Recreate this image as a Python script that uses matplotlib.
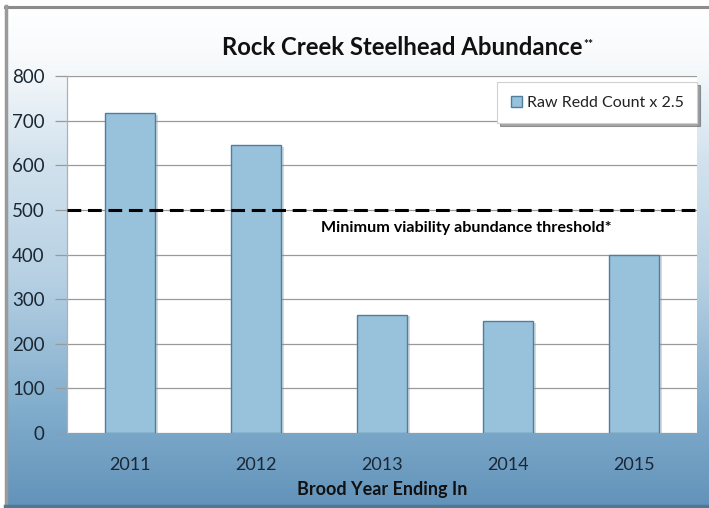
import numpy as np
import matplotlib.pyplot as plt
from matplotlib.colors import LinearSegmentedColormap
import matplotlib.transforms as mtransforms

years = ["2011", "2012", "2013", "2014", "2015"]
redd_abundance = [717, 645, 265, 250, 400]
threshold = 500
y_ticks = [0, 100, 200, 300, 400, 500, 600, 700, 800]

plt.rcParams['font.family'] = ['Lato', 'DejaVu Sans']

fig = plt.figure(figsize=(7.09, 5.08), dpi=100)

# background panel with vertical white-to-steel-blue gradient
bg = fig.add_axes([0, 0, 1, 1], zorder=-10)
bg.set_xlim(0, 709)
bg.set_ylim(508, 0)
bg.axis('off')
grad_cmap = LinearSegmentedColormap.from_list(
    'panel',
    [(0.0, '#ffffff'), (0.12, '#f6f9fb'), (0.30, '#d3e3ee'),
     (0.55, '#b6d0e3'), (0.80, '#82aecd'), (1.0, '#6393ba')])
grad = np.linspace(0, 1, 256).reshape(-1, 1)
bg.imshow(grad, cmap=grad_cmap, aspect='auto', extent=(5, 709, 506, 6),
          interpolation='bicubic', zorder=0)
bg.plot([5, 709], [6.5, 6.5], color='#8c8c8c', lw=2.2, zorder=2)
bg.plot([6, 6], [6, 506], color='#9a9a9a', lw=2.5, zorder=2)
bg.plot([5, 709], [506, 506], color='#4f7893', lw=2.5, zorder=2)

ax = fig.add_axes([67 / 709, 1 - 433 / 508, 630 / 709, 357 / 508])
ax.set_facecolor('white')
x = np.arange(len(years))
ax.set_xlim(-0.5, len(years) - 0.5)
ax.set_ylim(0, 800)

# soft shadow behind bars
shadow = mtransforms.offset_copy(ax.transData, fig=fig, x=2.5, y=-1.5, units='dots')
ax.bar(x, redd_abundance, width=0.4, color='#7f99ab', alpha=0.35,
       transform=shadow, zorder=2)
ax.bar(x, redd_abundance, width=0.4, color='#98c2db', edgecolor='#4f7f9e',
       linewidth=1.0, zorder=3, label='Raw Redd Count x 2.5')

ax.set_yticks(y_ticks)
ax.set_yticklabels([str(v) for v in y_ticks])
ax.yaxis.grid(True, color='#9a9a9a', linewidth=0.9)
ax.set_axisbelow(True)
ax.tick_params(axis='y', length=9, color='#9a9a9a', width=0.9,
               labelsize=13.5, labelcolor='#1b2733', pad=7)
ax.set_xticks(x)
ax.set_xticklabels(years)
ax.tick_params(axis='x', length=0, labelsize=13, labelcolor='#1b2733', pad=17)
for side in ['top', 'right', 'bottom']:
    ax.spines[side].set_visible(False)
ax.spines['left'].set_color('#b0b0b0')
ax.spines['left'].set_linewidth(0.9)

ax.axhline(threshold, color='black', linestyle=(0, (4.5, 2.2)), linewidth=2.2,
           zorder=4)
ax.text(2.67, threshold - 24, 'Minimum viability abundance threshold*',
        ha='center', va='top', fontsize=11.6, fontweight='bold', color='black')

ax.set_xlabel('Brood Year Ending In', fontsize=13, fontweight='bold',
              color='#111111', labelpad=6)

leg = ax.legend(loc='upper right', bbox_to_anchor=(1.0, 0.983), fontsize=11.5,
                frameon=True, fancybox=False, shadow=True, handlelength=0.7,
                handleheight=0.7, borderpad=0.85, handletextpad=0.3,
                borderaxespad=0.0)
leg.get_frame().set_edgecolor('#d0d0d0')
leg.get_frame().set_linewidth(0.8)
for t in leg.get_texts():
    t.set_color('#222222')

# title with small superscript asterisks
title = fig.text(402 / 709, 1 - 47 / 508, 'Rock Creek Steelhead Abundance',
                 ha='center', va='center', fontsize=17.2, fontweight='bold',
                 color='#111111')
fig.canvas.draw()
bb = title.get_window_extent()
fig.text((bb.x1 + 1) / fig.bbox.width, (bb.y1 - 3) / fig.bbox.height, '**',
         ha='left', va='top', fontsize=8.5, fontweight='bold', color='#111111')

fig.savefig('out.png', dpi=100)
